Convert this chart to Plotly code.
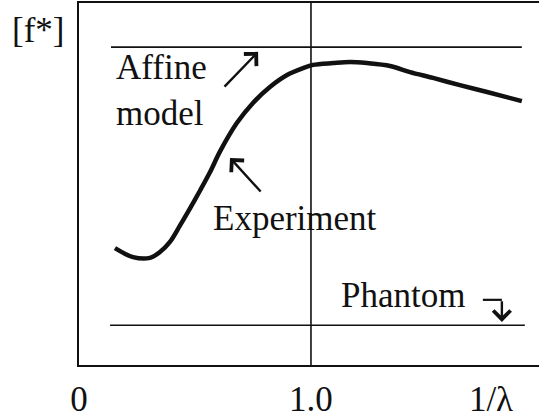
import plotly.graph_objects as go

# Experimental curve of the reduced force [f*] against 1/lambda
inv_lambda = [0.155, 0.233, 0.306, 0.349, 0.392, 0.435, 0.478, 0.522, 0.565, 0.608,
              0.681, 0.750, 0.823, 0.897, 0.966, 1.009, 1.095, 1.168, 1.241, 1.341,
              1.427, 1.526, 1.642, 1.759, 1.909]
f_star = [0.323, 0.298, 0.296, 0.312, 0.340, 0.385, 0.432, 0.482, 0.533, 0.590,
          0.669, 0.724, 0.768, 0.801, 0.820, 0.829, 0.834, 0.837, 0.834, 0.826,
          0.809, 0.793, 0.773, 0.754, 0.729]

# Horizontal model levels
affine_x = [0.138, 1.909]
affine_level = 0.878
phantom_x = [0.134, 1.922]
phantom_level = 0.110

# Axis ticks
tick_vals = [0.0, 1.0, 1.776]
tick_text = ["0", "1.0", "1/λ"]

FONT = "Liberation Serif"
INK = "#111111"

fig = go.Figure()

fig.add_trace(go.Scatter(x=affine_x, y=[affine_level] * 2, mode="lines",
                         line=dict(color=INK, width=1.6), hoverinfo="skip"))
fig.add_trace(go.Scatter(x=phantom_x, y=[phantom_level] * 2, mode="lines",
                         line=dict(color=INK, width=1.6), hoverinfo="skip"))
fig.add_trace(go.Scatter(x=[1.0, 1.0], y=[0, 1], mode="lines",
                         line=dict(color=INK, width=1.6), hoverinfo="skip"))
fig.add_trace(go.Scatter(x=inv_lambda, y=f_star, mode="lines",
                         line=dict(color=INK, width=4.5, shape="spline", smoothing=0.9),
                         hoverinfo="skip"))

txt = dict(family=FONT, size=35, color=INK)

labels = [
    ("Affine<br>model", 0.150, 0.757),
    ("Experiment", 0.568, 0.405),
    ("Phantom", 1.120, 0.191),
]
for text, x, y in labels:
    fig.add_annotation(x=x, y=y, xref="x", yref="y", text=text, showarrow=False,
                       xanchor="left", yanchor="middle", align="left", font=txt)

fig.add_annotation(x=-0.150, y=0.925, xref="paper", yref="paper", text="[f*]",
                   showarrow=False, xanchor="left", yanchor="middle", font=txt)

# Pointer arrows: (tip_x, tip_y, tail_x, tail_y)
arrows = [
    (0.772, 0.865, 0.621, 0.765),
    (0.651, 0.572, 0.789, 0.475),
    (1.823, 0.119, 1.823, 0.180),
]
for tx, ty, sx, sy in arrows:
    fig.add_annotation(x=tx, y=ty, ax=sx, ay=sy, xref="x", yref="y", axref="x", ayref="y",
                       text="", showarrow=True, arrowhead=4, arrowsize=1.4,
                       arrowwidth=2.4, arrowcolor=INK)

# short horizontal stroke of the bent phantom pointer
fig.add_shape(type="line", x0=1.741, x1=1.823, y0=0.180, y1=0.180,
              xref="x", yref="y", line=dict(color=INK, width=2.2))

fig.update_layout(
    width=539, height=419,
    margin=dict(l=79, r=0, t=3, b=54, autoexpand=False),
    paper_bgcolor="white", plot_bgcolor="white",
    showlegend=False,
    xaxis=dict(range=[0, 1.983], showgrid=False, zeroline=False,
               showline=True, mirror=True, linecolor=INK, linewidth=2,
               tickvals=tick_vals, ticktext=tick_text, ticks="",
               ticklabelstandoff=2, tickfont=txt, fixedrange=True,
               automargin=False),
    yaxis=dict(range=[0, 1], showgrid=False, zeroline=False,
               showline=True, linecolor=INK, linewidth=2,
               showticklabels=False, ticks="", fixedrange=True,
               automargin=False),
)

fig.write_html("out.html")
